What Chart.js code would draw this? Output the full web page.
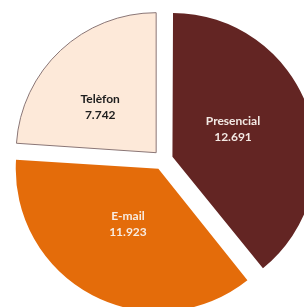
<!DOCTYPE html>
<html>
<head>
<meta charset="utf-8">
<script src="https://cdn.jsdelivr.net/npm/chart.js@4"></script>
<style>
html,body{margin:0;padding:0;background:#fff;overflow:hidden;}
#wrap{position:absolute;left:0;top:0;width:304px;height:307px;}
</style>
</head>
<body>
<div id="wrap"><canvas id="c" width="304" height="307"></canvas></div>
<script>
const categories = ['Presencial', 'E-mail', 'Telèfon'];
const values = [12691, 11923, 7742];
const valueLabels = ['12.691', '11.923', '7.742'];
const colors = ['#632523', '#E46C0A', '#FDE9D9'];
const borderColors = ['#632523', '#E46C0A', '#8a7676'];
const textColors = ['#f3e9e4', '#f8ece2', '#1e1e1e'];

const labelPlugin = {
  id: 'sliceLabels',
  afterDatasetsDraw(chart, args, opts) {
    const ctx = chart.ctx;
    const meta = chart.getDatasetMeta(0);
    const nudge = opts.nudge || [];
    ctx.save();
    ctx.font = 'bold 12px Lato, "Open Sans", sans-serif';
    ctx.textAlign = 'center';
    ctx.textBaseline = 'middle';
    meta.data.forEach((arc, i) => {
      const p = arc.getProps(['x', 'y', 'startAngle', 'endAngle', 'outerRadius'], true);
      const mid = (p.startAngle + p.endAngle) / 2;
      const off = 10;
      const r = p.outerRadius * 0.47;
      const n = nudge[i] || [0, 0];
      const cx = p.x + Math.cos(mid) * (off + r) + n[0];
      const cy = p.y + Math.sin(mid) * (off + r) + n[1];
      ctx.fillStyle = textColors[i];
      ctx.fillText(categories[i], cx, cy - 8);
      ctx.fillText(valueLabels[i], cx, cy + 8);
    });
    ctx.restore();
  }
};

new Chart(document.getElementById('c'), {
  type: 'pie',
  data: {
    labels: categories,
    datasets: [{
      data: values,
      backgroundColor: colors,
      borderColor: borderColors,
      borderWidth: [0, 0, 1],
      offset: 40,
      clip: false
    }]
  },
  options: {
    responsive: false,
    animation: false,
    radius: 140,
    layout: { padding: { left: 22, top: 13, right: 0, bottom: 0 } },
    plugins: {
      legend: { display: false },
      tooltip: { enabled: false },
      sliceLabels: { nudge: [[-1.5, -6], [0, -3], [-11, 2.5]] }
    }
  },
  plugins: [labelPlugin]
});
</script>
</body>
</html>
